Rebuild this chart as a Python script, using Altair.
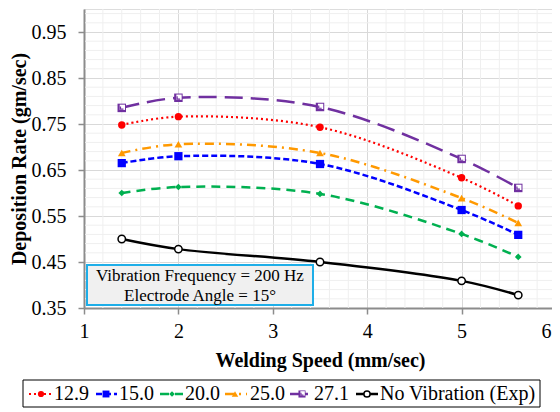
import altair as alt
import pandas as pd
import numpy as np

# ---------------- data ----------------
speed = [1.4, 2.0, 3.5, 5.0, 5.6]
r_129 = [0.748, 0.766, 0.743, 0.633, 0.572]
r_150 = [0.665, 0.680, 0.663, 0.563, 0.509]
r_200 = [0.600, 0.613, 0.598, 0.511, 0.461]
r_250 = [0.687, 0.706, 0.687, 0.589, 0.535]
r_271 = [0.785, 0.807, 0.787, 0.674, 0.611]
no_vib = [0.500, 0.478, 0.450, 0.409, 0.378]
series_names = ["12.9", "15.0", "20.0", "25.0", "27.1", "No Vibration (Exp)"]
series_values = [r_129, r_150, r_200, r_250, r_271, no_vib]
x_ticks = [1, 2, 3, 4, 5, 6]
y_ticks = [0.35, 0.45, 0.55, 0.65, 0.75, 0.85, 0.95]
annotation = ["Vibration Frequency = 200 Hz", "Electrode Angle = 15°"]

# ---------------- styles ----------------
FONT = "Liberation Serif"
W, H = 472, 299
PURPLE = "#7030a0"
styles = [
    dict(color="#ff0000", dash=[2, 3], lw=2.2, shape="circle", size=55, fill="#ff0000", stroke="#ff0000", sw=0),
    dict(color="#0000ff", dash=[6, 3], lw=2.5, shape="square", size=68, fill="#0000ff", stroke="#0000ff", sw=0),
    dict(color="#00b050", dash=[9, 6], lw=2.5, shape="diamond", size=45, fill="#00b050", stroke="#00b050", sw=0),
    dict(color="#ff9900", dash=[9, 5, 2, 5], lw=2.5, shape="triangle-up", size=60, fill="#ff9900", stroke="#ff9900", sw=0),
    dict(color=PURPLE, dash=[18, 8], lw=2.5, shape="square", size=72, fill=PURPLE, stroke=PURPLE, sw=0),
    dict(color="#000000", dash=[1, 0], lw=2.5, shape="circle", size=55, fill="#ffffff", stroke="#000000", sw=1.5),
]
L_PATH = "M-0.3,-0.35 V0.3 H0.4"

xs = alt.Scale(domain=[1, 6], nice=False, zero=False)
ys = alt.Scale(domain=[0.35, 1.0], nice=False, zero=False)
common_axis = dict(
    grid=True, gridColor="#d9d9d9", gridWidth=1,
    domainColor="#8c8c8c", domainWidth=2,
    tickColor="#8c8c8c", tickWidth=1.5, tickSize=6,
    labelFont=FONT, labelFontSize=20, labelColor="#000000",
    titleFont=FONT, titleFontSize=20, titleFontWeight="bold", titleColor="#000000",
)
xaxis = alt.Axis(values=x_ticks, format="d", title="Welding Speed (mm/sec)",
                 labelFlush=False,
                 labelAlign={"condition": {"test": "datum.value == 6", "value": "right"}, "value": "center"},
                 labelOffset={"condition": {"test": "datum.value == 6", "value": -5}, "value": 0},
                 labelPadding=7, titlePadding=9, **common_axis)
yaxis = alt.Axis(values=y_ticks, format=".2f", title="Deposition Rate (gm/sec)",
                 labelPadding=12, titlePadding=2, **common_axis)

layers = []

# minor gridlines
gx = [v for v in np.round(np.arange(1.2, 6.0, 0.2), 2) if abs(v - round(v)) > 1e-6]
gy = [v for v in np.round(np.arange(0.37, 1.0, 0.02), 2) if all(abs(v - t) > 1e-6 for t in y_ticks)]
layers.append(alt.Chart(pd.DataFrame({"speed": gx})).mark_rule(color="#efefef", strokeWidth=1).encode(
    x=alt.X("speed:Q", scale=xs, axis=xaxis)))
layers.append(alt.Chart(pd.DataFrame({"rate": gy})).mark_rule(color="#efefef", strokeWidth=1).encode(
    y=alt.Y("rate:Q", scale=ys, axis=yaxis), x=alt.value(1), x2=alt.value(W)))


def purple_extras(chart_data, enc, scale=1.0):
    return [
        alt.Chart(chart_data).mark_point(shape="square", size=28 * scale, filled=True, fill="#ffffff",
                                         strokeWidth=0, opacity=1, xOffset=0.6, yOffset=-0.6).encode(**enc),
        alt.Chart(chart_data).mark_point(shape=L_PATH, size=72 * scale, filled=False, stroke=PURPLE,
                                         strokeWidth=1.2, opacity=1).encode(**enc),
    ]


# series
for name, vals, st in zip(series_names, series_values, styles):
    df = pd.DataFrame({"speed": speed, "rate": vals, "series": name})
    enc = dict(x=alt.X("speed:Q", scale=xs, axis=xaxis), y=alt.Y("rate:Q", scale=ys, axis=yaxis))
    line_kw = dict(color=st["color"], strokeWidth=st["lw"], interpolate="catmull-rom")
    if name != "No Vibration (Exp)":
        line_kw["strokeDash"] = st["dash"]
    layers.append(alt.Chart(df).mark_line(**line_kw).encode(**enc))
    layers.append(alt.Chart(df).mark_point(shape=st["shape"], size=st["size"], filled=True,
                                           fill=st["fill"], stroke=st["stroke"], strokeWidth=st["sw"],
                                           opacity=1).encode(**enc))
    if name == "27.1":
        layers.extend(purple_extras(df, enc))

one = pd.DataFrame({"a": [0]})

# annotation box
layers.append(alt.Chart(one).mark_rect(fill="#f0f0f0", stroke="#1eaee8", strokeWidth=2).encode(
    x=alt.value(3), x2=alt.value(229), y=alt.value(256), y2=alt.value(296)))
for i, t in enumerate(annotation):
    layers.append(alt.Chart(one).mark_text(text=t, font=FONT, fontSize=17, color="#000000",
                                           align="center", baseline="middle").encode(
        x=alt.value(116), y=alt.value(267 + 20 * i)))

# legend
LY = 385
layers.append(alt.Chart(one).mark_rect(fill="#ffffff", stroke="#000000", strokeWidth=1).encode(
    x=alt.value(-61), x2=alt.value(456), y=alt.value(371), y2=alt.value(398)))
leg_pos = [(-55, -32, -43, -30), (12, 33, 22, 35), (76, 99, 88, 101),
           (141, 163, 151, 166), (206, 226, 218, 230), (272, 294, 283, 296)]
for name, st, (x0, x1, xm, xt) in zip(series_names, styles, leg_pos):
    rk = dict(color=st["color"], strokeWidth=st["lw"])
    if name != "No Vibration (Exp)":
        rk["strokeDash"] = st["dash"]
    layers.append(alt.Chart(one).mark_rule(**rk).encode(
        x=alt.value(x0), x2=alt.value(x1), y=alt.value(LY)))
    layers.append(alt.Chart(one).mark_point(shape=st["shape"], size=st["size"] * 0.7, filled=True,
                                            fill=st["fill"], stroke=st["stroke"], strokeWidth=st["sw"],
                                            opacity=1).encode(x=alt.value(xm), y=alt.value(LY)))
    if name == "27.1":
        layers.extend(purple_extras(one, dict(x=alt.value(xm), y=alt.value(LY)), scale=0.7))
    layers.append(alt.Chart(one).mark_text(text=name, font=FONT, fontSize=20, color="#000000",
                                           align="left", baseline="middle").encode(
        x=alt.value(xt), y=alt.value(LY)))

chart = alt.layer(*layers).properties(
    width=W, height=H,
    autosize=alt.AutoSizeParams(type="none"),
    padding={"left": 76, "top": 1, "right": -4, "bottom": 100},
).configure_view(stroke=None).configure(font=FONT)

chart.save("out.html", embed_options={"renderer": "svg", "actions": False})
